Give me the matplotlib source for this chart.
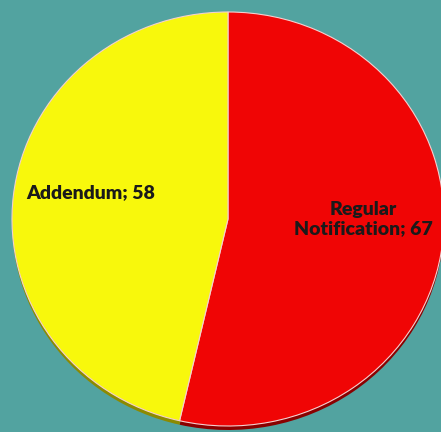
import matplotlib
matplotlib.use('Agg')
import matplotlib.pyplot as plt

# pie data
labels = ["Regular\nNotification", "Addendum"]
values = [67, 58]
colors = ["#f00505", "#f8f80c"]
shadow_colors = ["#8a0000", "#8c8a00"]

bg = "#52a3a0"

fig = plt.figure(figsize=(4.41, 4.32), dpi=100, facecolor=bg)
ax = fig.add_axes([0, 0, 1, 1])
ax.set_facecolor(bg)

# pixel geometry of the (slightly squashed) pie
cx, cy = 228, 219
rx, ry = 216, 207

# shadow pie a few px lower
ax.pie(values, colors=shadow_colors, startangle=90, counterclock=False,
       center=(0, -4.0 / ry), wedgeprops=dict(linewidth=0))
wedges, _ = ax.pie(values, colors=colors, startangle=90, counterclock=False,
                   wedgeprops=dict(edgecolor="#f4d0d0", linewidth=0.8))

ax.set_aspect('auto')
ax.set_xlim(-cx / rx, (441 - cx) / rx)
ax.set_ylim((cy - 432) / ry, cy / ry)
ax.axis('off')

# data labels
txt = dict(fontsize=14, fontweight='heavy', color="#1a1a1a",
           family=['Lato', 'DejaVu Sans'], ha='center', va='center',
           linespacing=1.2)
ax.text((363 - cx) / rx, (cy - 219) / ry, "%s; %d" % (labels[0], values[0]), **txt)
ax.text((91 - cx) / rx, (cy - 193) / ry, "%s; %d" % (labels[1], values[1]), **txt)

fig.savefig("out.png", dpi=100, facecolor=bg)
